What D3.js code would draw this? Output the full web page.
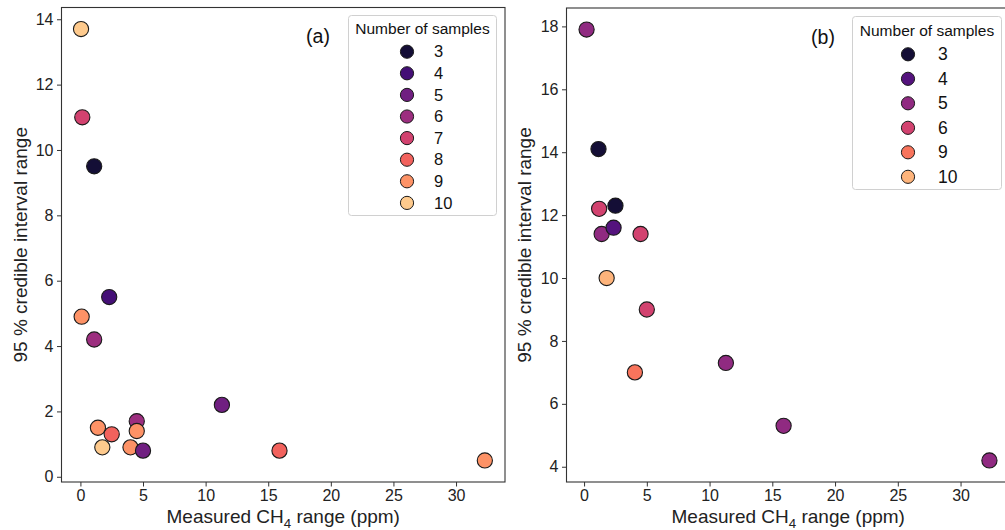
<!DOCTYPE html>
<html>
<head>
<meta charset="utf-8">
<script src="https://cdn.jsdelivr.net/npm/d3@7"></script>
<style>
  html, body { margin: 0; padding: 0; background: #fff; }
  svg { display: block; font-family: "Liberation Sans", Arial, sans-serif; }
</style>
</head>
<body>
<svg id="chart" width="1005" height="530"></svg>
<script>
// Panel (a): measured CH4 range vs 95 % credible interval range
const aRange   = [0.05, 0.15, 1.1, 2.3, 0.1, 1.1, 11.3, 1.4, 2.5, 4.5, 4.5, 1.75, 4.0, 5.0, 15.9, 32.3];
const aCredInt = [13.7, 11.0, 9.5, 5.5, 4.9, 4.2, 2.2, 1.5, 1.3, 1.7, 1.4, 0.9, 0.9, 0.8, 0.8, 0.5];
const aSamples = [10, 7, 3, 4, 9, 6, 5, 9, 8, 6, 9, 10, 9, 5, 8, 9];
const aGroups  = [3, 4, 5, 6, 7, 8, 9, 10];
const aShade   = [0.10, 0.22, 0.33, 0.44, 0.57, 0.67, 0.77, 0.89];

// Panel (b)
const bRange   = [0.2, 1.15, 1.2, 2.5, 1.4, 2.35, 4.5, 1.8, 5.0, 11.3, 4.05, 15.9, 32.3];
const bCredInt = [17.9, 14.1, 12.2, 12.3, 11.4, 11.6, 11.4, 10.0, 9.0, 7.3, 7.0, 5.3, 4.2];
const bSamples = [5, 3, 6, 3, 5, 4, 6, 10, 6, 5, 9, 5, 5];
const bGroups  = [3, 4, 5, 6, 9, 10];
const bShade   = [0.10, 0.26, 0.41, 0.57, 0.71, 0.84];

const xTicks = [0, 5, 10, 15, 20, 25, 30];
const aYTicks = [0, 2, 4, 6, 8, 10, 12, 14];
const bYTicks = [4, 6, 8, 10, 12, 14, 16, 18];

const svg = d3.select("#chart");

function drawPanel(p) {
  const x = d3.scaleLinear().domain(p.xDomain).range([p.left, p.right]);
  const y = d3.scaleLinear().domain(p.yDomain).range([p.bottom, p.top]);
  const color = d3.scaleOrdinal().domain(p.groups).range(p.shade.map(d3.interpolateMagma));

  const g = svg.append("g");

  // axes
  const xAxis = g.append("g")
    .attr("transform", `translate(0,${p.bottom})`)
    .call(d3.axisBottom(x).tickValues(xTicks).tickSize(4.5).tickPadding(3).tickFormat(d3.format("d")));
  const yAxis = g.append("g")
    .attr("transform", `translate(${p.left},0)`)
    .call(d3.axisLeft(y).tickValues(p.yTicks).tickSize(4.5).tickPadding(3.5).tickFormat(d3.format("d")));
  [xAxis, yAxis].forEach(a => {
    a.select(".domain").remove();
    a.selectAll(".tick line").attr("stroke", "#333").attr("stroke-width", 1);
    a.selectAll(".tick text").attr("fill", "#222").style("font-size", p.tickFont + "px")
      .style("font-family", "'Liberation Sans', Arial, sans-serif");
  });

  // frame
  g.append("rect")
    .attr("x", p.left).attr("y", p.top)
    .attr("width", p.right - p.left).attr("height", p.bottom - p.top)
    .attr("fill", "none").attr("stroke", "#333").attr("stroke-width", 1.1);

  // points
  g.append("g").selectAll("circle")
    .data(p.xs.map((v, i) => ({ x: v, y: p.ys[i], n: p.ns[i] })))
    .join("circle")
    .attr("cx", d => x(d.x))
    .attr("cy", d => y(d.y))
    .attr("r", 7.6)
    .attr("fill", d => color(d.n))
    .attr("stroke", "#1a1a1a")
    .attr("stroke-width", 1.1);

  // axis titles
  const xl = g.append("text")
    .attr("x", (p.left + p.right) / 2).attr("y", p.xLabelY)
    .attr("text-anchor", "middle").attr("fill", "#222")
    .style("font-size", p.labelFont + "px");
  xl.append("tspan").text("Measured CH");
  xl.append("tspan").attr("dy", 5).style("font-size", (p.labelFont * 0.7) + "px").text("4");
  xl.append("tspan").attr("dy", -5).text(" range (ppm)");

  g.append("text")
    .attr("transform", `translate(${p.yLabelX},${(p.top + p.bottom) / 2}) rotate(-90)`)
    .attr("text-anchor", "middle").attr("fill", "#222")
    .style("font-size", p.labelFont + "px")
    .text("95 % credible interval range");

  // panel tag
  g.append("text")
    .attr("x", p.tagX).attr("y", p.tagY)
    .attr("text-anchor", "middle").attr("fill", "#111")
    .style("font-size", "19.5px")
    .text(p.tag);

  // legend
  const L = p.legend;
  g.append("rect")
    .attr("x", L.x).attr("y", L.y).attr("width", L.w).attr("height", L.h)
    .attr("rx", 3).attr("fill", "#fff").attr("fill-opacity", 0.85)
    .attr("stroke", "#d0d0d0").attr("stroke-width", 1);
  g.append("text")
    .attr("x", L.x + L.w / 2).attr("y", L.titleY)
    .attr("text-anchor", "middle").attr("fill", "#111")
    .style("font-size", L.titleFont + "px")
    .text("Number of samples");
  const items = g.append("g").selectAll("g")
    .data(p.groups)
    .join("g")
    .attr("transform", (d, i) => `translate(0,${L.firstY + i * L.step})`);
  items.append("circle")
    .attr("cx", L.markX).attr("cy", 0).attr("r", 6.6)
    .attr("fill", d => color(d))
    .attr("stroke", "#1a1a1a").attr("stroke-width", 1);
  items.append("text")
    .attr("x", L.textX).attr("y", 0).attr("dy", "0.35em")
    .attr("fill", "#111")
    .style("font-size", L.itemFont + "px")
    .text(d => d);
}

drawPanel({
  xs: aRange, ys: aCredInt, ns: aSamples, groups: aGroups, shade: aShade,
  xDomain: [-1.51, 33.91], yDomain: [-0.16, 14.36], yTicks: aYTicks,
  left: 61.5, right: 505, top: 7.5, bottom: 482,
  tickFont: 16, labelFont: 19, xLabelY: 522.5, yLabelX: 27,
  tag: "(a)", tagX: 318, tagY: 43,
  legend: { x: 348.5, y: 15.5, w: 148, h: 200, titleY: 34, titleFont: 15.5,
            firstY: 51.7, step: 21.6, markX: 407, textX: 434, itemFont: 16.5 }
});

drawPanel({
  xs: bRange, ys: bCredInt, ns: bSamples, groups: bGroups, shade: bShade,
  xDomain: [-1.4, 33.94], yDomain: [3.515, 18.585], yTicks: bYTicks,
  left: 566.5, right: 1010, top: 8, bottom: 482,
  tickFont: 16, labelFont: 19, xLabelY: 523, yLabelX: 531,
  tag: "(b)", tagX: 823, tagY: 44,
  legend: { x: 852.5, y: 16.5, w: 149, h: 173, titleY: 36, titleFont: 15.5,
            firstY: 54.3, step: 24.5, markX: 908, textX: 938, itemFont: 17.5 }
});
</script>
</body>
</html>
